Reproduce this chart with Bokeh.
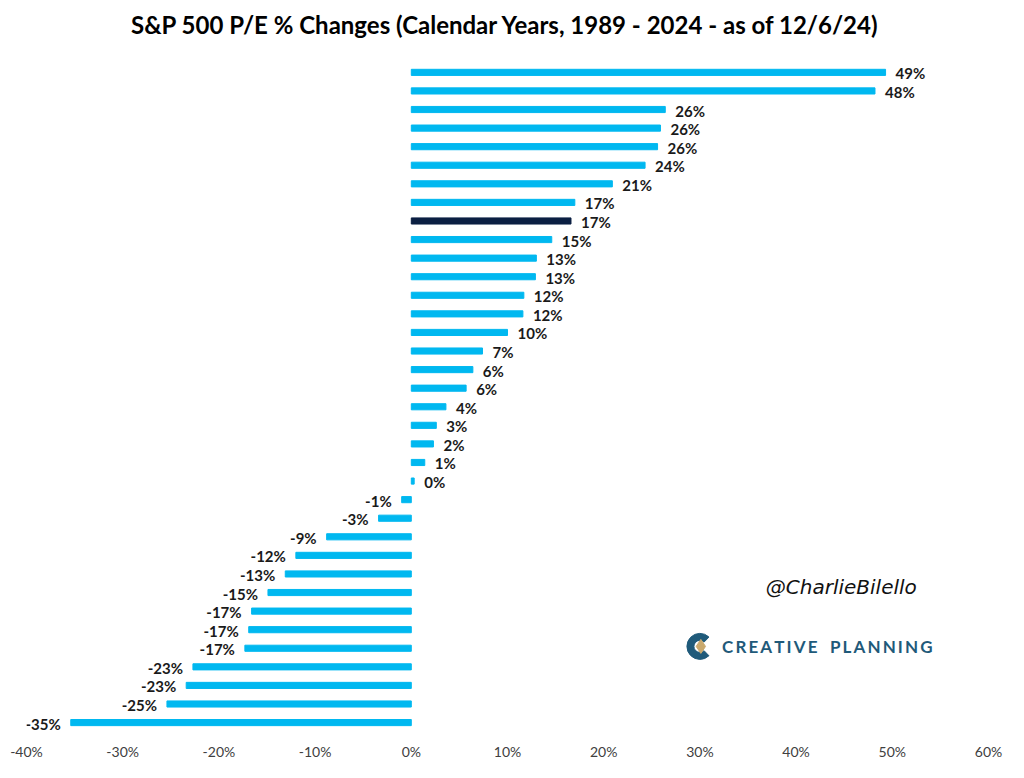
from bokeh.plotting import figure
from bokeh.models import ColumnDataSource, Range1d, FixedTicker, PrintfTickFormatter, Label
from bokeh.core.properties import value
from bokeh.embed import file_html
from bokeh.resources import INLINE

# ---- data (sorted, largest first) ----
pe_changes = [49.3, 48.2, 26.4, 25.9, 25.6, 24.3, 20.9, 17.0, 16.6, 14.6, 13.0, 12.9,
              11.7, 11.6, 10.0, 7.4, 6.4, 5.7, 3.6, 2.6, 2.3, 1.4, 0.3, -1.0, -3.4,
              -8.8, -12.0, -13.1, -14.9, -16.6, -16.9, -17.3, -22.7, -23.4, -25.4, -35.4]
highlight_rank = 8          # current year (2024 YTD) bar
x_ticks = [-40, -30, -20, -10, 0, 10, 20, 30, 40, 50, 60]
title_text = "S&P 500 P/E % Changes (Calendar Years, 1989 - 2024 - as of 12/6/24)"

BLUE = "#00B8F0"
NAVY = "#0B1F42"
FONT = "Lato"

ranks = list(range(len(pe_changes)))
colors = [NAVY if i == highlight_rank else BLUE for i in ranks]
labels = ["%.0f%%" % v for v in pe_changes]

src = ColumnDataSource(dict(y=ranks, val=pe_changes, color=colors, label=labels))
pos = ColumnDataSource(dict(y=[r for r, v in zip(ranks, pe_changes) if v >= 0],
                            val=[v for v in pe_changes if v >= 0],
                            label=[l for l, v in zip(labels, pe_changes) if v >= 0]))
neg = ColumnDataSource(dict(y=[r for r, v in zip(ranks, pe_changes) if v < 0],
                            val=[v for v in pe_changes if v < 0],
                            label=[l for l, v in zip(labels, pe_changes) if v < 0]))

p = figure(width=1008, height=762, output_backend="svg", toolbar_location=None,
           x_range=Range1d(-40, 60), y_range=Range1d(35.75, -3.33),
           min_border_left=26, min_border_right=20, min_border_top=10, min_border_bottom=24)

# title placed inside the (extended) frame, above the first bar
p.add_layout(Label(x=9.8, y=-2.58, text=title_text,
                   text_align="center", text_baseline="middle", text_font=FONT,
                   text_font_style="bold", text_font_size="24px", text_color="#000000"))

p.hbar(y="y", left=0, right="val", height=0.33, color="color", source=src)

p.text(x="val", y="y", text="label", source=pos, text_align="left", text_baseline="middle",
       x_offset=10, y_offset=1, text_font=value(FONT), text_font_size="15px",
       text_font_style="bold", text_color="#1a1a1a")
p.text(x="val", y="y", text="label", source=neg, text_align="right", text_baseline="middle",
       x_offset=-10, y_offset=1, text_font=value(FONT), text_font_size="15px",
       text_font_style="bold", text_color="#1a1a1a")

# watermark + logo
p.add_layout(Label(x=44.7, y=27.7, text="@CharlieBilello", text_align="center",
                   text_baseline="middle", text_font="DejaVu Sans", text_font_style="italic",
                   text_font_size="20px", text_color="#111111"))
p.annular_wedge(x=[30.0], y=[30.9], inner_radius=6, outer_radius=13,
                inner_radius_units="screen", outer_radius_units="screen",
                start_angle=0.8, end_angle=-0.8, color="#1F5A7A")
p.scatter(x=[30.1], y=[30.9], marker="diamond", size=14, color="#C9A96E")
TS = "\u2009"
logo_text = TS.join("CREATIVE") + "\u00a0\u00a0\u00a0" + TS.join("PLANNING")
p.add_layout(Label(x=32.3, y=30.9, text=logo_text, text_align="left",
                   text_baseline="middle", text_font="Lato", text_font_style="bold",
                   text_font_size="17px", text_color="#1F5A7A"))

p.xaxis.ticker = FixedTicker(ticks=x_ticks)
p.xaxis.formatter = PrintfTickFormatter(format="%d%%")
p.xaxis.axis_line_color = None
p.xaxis.major_tick_line_color = None
p.xaxis.minor_tick_line_color = None
p.xaxis.major_label_text_font = FONT
p.xaxis.major_label_text_font_size = "14px"
p.xaxis.major_label_text_color = "#404040"
p.xaxis.major_label_standoff = 0
p.yaxis.visible = False
p.xgrid.visible = False
p.ygrid.visible = False
p.outline_line_color = None

open("out.html", "w").write(file_html(p, INLINE))
